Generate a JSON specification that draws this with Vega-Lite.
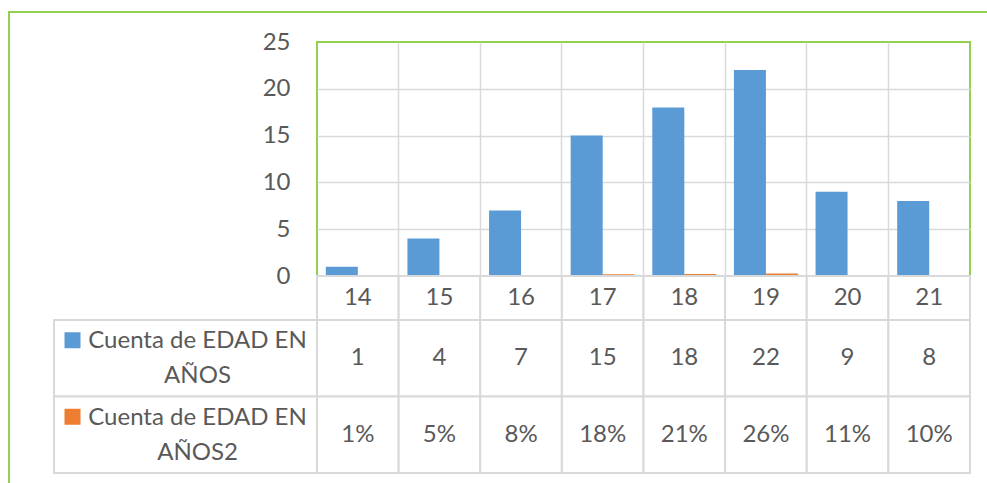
{
  "$schema": "https://vega.github.io/schema/vega-lite/v6.json",
  "padding": {"left": 8, "top": 11, "right": 0, "bottom": 0},
  "background": "white",
  "datasets": {
    "tabla": [
      {"edad": "14", "serie": "Cuenta de EDAD EN AÑOS", "valor": 1},
      {"edad": "14", "serie": "Cuenta de EDAD EN AÑOS2", "valor": 0.0119},
      {"edad": "15", "serie": "Cuenta de EDAD EN AÑOS", "valor": 4},
      {"edad": "15", "serie": "Cuenta de EDAD EN AÑOS2", "valor": 0.0476},
      {"edad": "16", "serie": "Cuenta de EDAD EN AÑOS", "valor": 7},
      {"edad": "16", "serie": "Cuenta de EDAD EN AÑOS2", "valor": 0.0833},
      {"edad": "17", "serie": "Cuenta de EDAD EN AÑOS", "valor": 15},
      {"edad": "17", "serie": "Cuenta de EDAD EN AÑOS2", "valor": 0.1786},
      {"edad": "18", "serie": "Cuenta de EDAD EN AÑOS", "valor": 18},
      {"edad": "18", "serie": "Cuenta de EDAD EN AÑOS2", "valor": 0.2143},
      {"edad": "19", "serie": "Cuenta de EDAD EN AÑOS", "valor": 22},
      {"edad": "19", "serie": "Cuenta de EDAD EN AÑOS2", "valor": 0.2619},
      {"edad": "20", "serie": "Cuenta de EDAD EN AÑOS", "valor": 9},
      {"edad": "20", "serie": "Cuenta de EDAD EN AÑOS2", "valor": 0.1071},
      {"edad": "21", "serie": "Cuenta de EDAD EN AÑOS", "valor": 8},
      {"edad": "21", "serie": "Cuenta de EDAD EN AÑOS2", "valor": 0.0952}
    ],
    "series": [
      {"serie": "Cuenta de EDAD EN AÑOS"},
      {"serie": "Cuenta de EDAD EN AÑOS2"}
    ]
  },
  "config": {
    "view": {"stroke": null},
    "text": {"font": "Lato", "fontSize": 24, "fill": "#595959"},
    "axis": {"labelFont": "Lato", "labelFontSize": 24, "labelColor": "#595959"}
  },
  "spacing": 0,
  "bounds": "flush",
  "vconcat": [
    {"width": 979, "height": 2, "view": {"fill": "#92D050", "stroke": null}, "data": {"values": [{}]}, "mark": {"type": "point", "opacity": 0, "size": 0}, "encoding": {}},
    {
      "spacing": 44,
      "bounds": "flush",
      "hconcat": [
        {"width": 2, "height": 470, "view": {"fill": "#92D050", "stroke": null}, "data": {"values": [{}]}, "mark": {"type": "point", "opacity": 0, "size": 0}, "encoding": {}},
        {
          "columns": 2,
          "spacing": 0,
          "bounds": "flush",
          "concat": [
            {"width": 263, "height": 29, "data": {"values": [{}]}, "mark": {"type": "point", "opacity": 0, "size": 0}, "encoding": {}},
            {"width": 653, "height": 29, "data": {"values": [{}]}, "mark": {"type": "point", "opacity": 0, "size": 0}, "encoding": {}},
            {"width": 263, "height": 234, "data": {"values": [{}]}, "mark": {"type": "point", "opacity": 0, "size": 0}, "encoding": {}},
            {
              "width": 653,
              "height": 234,
              "view": {"stroke": "#92D050", "strokeWidth": 2},
              "data": {"name": "tabla"},
              "mark": {"type": "bar"},
              "encoding": {
                "x": {"field": "edad", "type": "ordinal", "scale": {"paddingInner": 0, "paddingOuter": 0},
                  "axis": {"labels": false, "ticks": false, "domain": false, "title": null, "grid": true, "bandPosition": 0,
                    "gridColor": {"condition": {"test": "datum.value == '14'", "value": "transparent"}, "value": "#d9d9d9"}, "gridWidth": 1.5}},
                "xOffset": {"field": "serie", "type": "nominal", "scale": {"paddingInner": 0, "paddingOuter": 0.275}},
                "y": {"field": "valor", "type": "quantitative", "scale": {"domain": [0, 25]},
                  "axis": {"values": [0, 5, 10, 15, 20, 25], "title": null, "domain": false, "ticks": false, "labelPadding": 27,
                    "gridColor": {"condition": {"test": "datum.value == 25", "value": "transparent"}, "value": "#d9d9d9"}, "gridWidth": 1.5}},
                "color": {"field": "serie", "type": "nominal", "scale": {"range": ["#5B9BD5", "#ED7D31"]}, "legend": null}
              }
            },
            {"width": 263, "height": 44, "data": {"values": [{}]}, "mark": {"type": "point", "opacity": 0, "size": 0}, "encoding": {}},
            {
              "width": 653,
              "height": 44,
              "data": {"name": "tabla"},
              "transform": [{"filter": "datum.serie == 'Cuenta de EDAD EN AÑOS'"}],
              "encoding": {"x": {"field": "edad", "type": "ordinal", "scale": {"type": "band", "paddingInner": 0, "paddingOuter": 0}, "axis": null}},
              "layer": [
                {"mark": {"type": "rect", "fill": "white", "stroke": "#d9d9d9", "strokeWidth": 2}},
                {"mark": {"type": "text", "baseline": "middle"}, "encoding": {"text": {"field": "edad"}}}
              ]
            },
            {
              "width": 263,
              "height": 153,
              "data": {"name": "series"},
              "transform": [{"calculate": "[substring(datum.serie, 0, 17), substring(datum.serie, 18)]", "as": "lineas"}],
              "encoding": {"y": {"field": "serie", "type": "nominal", "scale": {"type": "band", "paddingInner": 0, "paddingOuter": 0}, "axis": null}},
              "layer": [
                {"mark": {"type": "rect", "fill": "white", "stroke": "#d9d9d9", "strokeWidth": 2}},
                {"mark": {"type": "text", "baseline": "middle", "dx": 12, "dy": -17, "lineHeight": 35}, "encoding": {"text": {"field": "lineas"}}},
                {"mark": {"type": "point", "shape": "square", "filled": true, "size": 256, "opacity": 1, "xOffset": -113, "yOffset": -18},
                  "encoding": {"color": {"field": "serie", "type": "nominal", "scale": {"range": ["#5B9BD5", "#ED7D31"]}, "legend": null}}}
              ]
            },
            {
              "width": 653,
              "height": 153,
              "data": {"name": "tabla"},
              "encoding": {
                "x": {"field": "edad", "type": "ordinal", "scale": {"type": "band", "paddingInner": 0, "paddingOuter": 0}, "axis": null},
                "y": {"field": "serie", "type": "nominal", "scale": {"type": "band", "paddingInner": 0, "paddingOuter": 0}, "axis": null}
              },
              "layer": [
                {"mark": {"type": "rect", "fill": "white", "stroke": "#d9d9d9", "strokeWidth": 2}},
                {"transform": [{"filter": "datum.serie == 'Cuenta de EDAD EN AÑOS'"}], "mark": {"type": "text", "baseline": "middle"},
                  "encoding": {"text": {"field": "valor", "type": "quantitative", "format": "d"}}},
                {"transform": [{"filter": "datum.serie == 'Cuenta de EDAD EN AÑOS2'"}], "mark": {"type": "text", "baseline": "middle"},
                  "encoding": {"text": {"field": "valor", "type": "quantitative", "format": ".0%"}}}
              ]
            }
          ]
        }
      ]
    }
  ]
}
